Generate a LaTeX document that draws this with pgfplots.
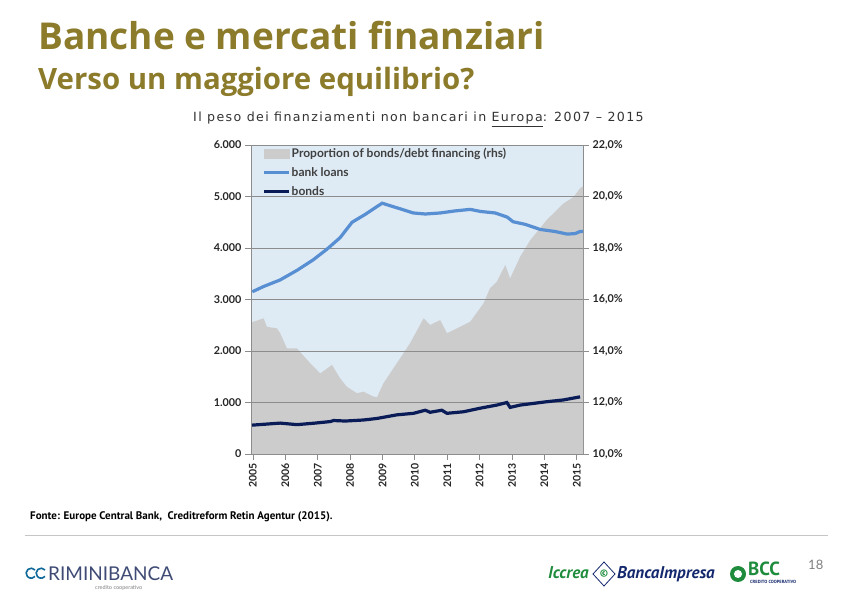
\documentclass[border=0pt]{standalone}
\usepackage{pgfplots}
\pgfplotsset{compat=1.18}
\usepackage{fontspec}
\setmainfont{PT Sans}
\newfontfamily\titlefont{Open Sans}
\newfontfamily\chartfont{Lato}
\newfontfamily\slidefont[LetterSpace=11]{DejaVu Sans}

\definecolor{olive}{RGB}{139,123,43}
\definecolor{plotbg}{RGB}{222,234,244}
\definecolor{areagray}{RGB}{204,204,204}
\definecolor{loanblue}{RGB}{88,143,210}
\definecolor{bondnavy}{RGB}{10,28,88}
\definecolor{gridgray}{RGB}{140,140,140}
\definecolor{logogreen}{RGB}{30,140,60}
\definecolor{logonavy}{RGB}{20,40,110}

\pgfplotsset{
  longline/.style={legend image code/.code={\draw[##1] (0pt,0pt) -- (25pt,0pt);}},
  areabox/.style={legend image code/.code={\fill[areagray] (0pt,-4.5pt) rectangle (25pt,4.5pt);}},
}

% proportion of bonds/debt financing (rhs, %)
\pgfplotstableread{
year  share
2004.94 10
2004.94 15.10
2005.33 15.27
2005.43 14.94
2005.74 14.88
2005.84 14.69
2006.05 14.10
2006.36 14.10
2006.77 13.52
2007.08 13.13
2007.44 13.46
2007.69 12.94
2007.90 12.61
2008.21 12.36
2008.41 12.42
2008.72 12.23
2008.83 12.20
2009.03 12.75
2009.44 13.52
2009.85 14.30
2010.27 15.27
2010.47 15.01
2010.78 15.20
2010.99 14.69
2011.30 14.88
2011.71 15.14
2012.12 15.85
2012.32 16.44
2012.53 16.69
2012.79 17.34
2012.94 16.82
2013.25 17.66
2013.56 18.30
2014.07 19.09
2014.59 19.73
2014.90 19.98
2015.10 20.32
2015.19 20.40
2015.19 10
}\sharetable

% bank loans (lhs)
\pgfplotstableread{
year  value
2004.98 3150
2005.32 3250
2005.84 3380
2006.37 3570
2006.86 3770
2007.29 3980
2007.69 4200
2008.06 4500
2008.46 4650
2008.77 4780
2008.99 4870
2009.24 4820
2009.55 4760
2009.95 4680
2010.32 4660
2010.78 4680
2011.24 4720
2011.71 4750
2012.02 4710
2012.48 4680
2012.85 4600
2013.03 4510
2013.40 4460
2013.87 4360
2014.33 4320
2014.70 4270
2014.95 4280
2015.10 4320
2015.19 4320
}\loantable

% bonds (lhs)
\pgfplotstableread{
year  value
2004.97 560
2005.84 600
2006.36 570
2006.92 600
2007.39 630
2007.49 650
2007.85 640
2008.41 660
2008.83 690
2009.44 760
2009.96 790
2010.32 850
2010.47 810
2010.83 850
2010.99 790
2011.50 820
2012.02 890
2012.53 950
2012.84 1000
2012.94 905
2013.25 950
2014.07 1015
2014.59 1050
2015.10 1110
}\bondtable

\begin{document}
\begin{tikzpicture}[x=1pt,y=1pt]
\useasboundingbox (0,0) rectangle (842,596);
\fill[white] (0,0) rectangle (842,596);

% slide titles
\node[anchor=base west, inner sep=0pt, text=olive, font=\titlefont\bfseries\fontsize{37}{37}\selectfont] at (38,546) {Banche e mercati finanziari};
\node[anchor=base west, inner sep=0pt, text=olive, font=\titlefont\bfseries\fontsize{29.4}{29.4}\selectfont] at (38,506) {Verso un maggiore equilibrio?};
\node[anchor=base west, inner sep=0pt, text=black!80, font=\slidefont\fontsize{12.6}{12.6}\selectfont] at (193,474) {Il peso dei finanziamenti non bancari in \underline{Europa}: 2007 – 2015};

% right axis: share of bonds in debt financing
\begin{axis}[
  at={(251pt,142pt)}, anchor=south west,
  width=332pt, height=309pt, scale only axis,
  xmin=2004.94, xmax=2015.19,
  ymin=10, ymax=22,
  axis x line=none,
  axis y line*=right,
  axis line style={gridgray},
  axis background/.style={fill=plotbg},
  ytick={10,12,...,22},
  tick style={gridgray, thick},
  tick align=outside, major tick length=6pt,
  /pgf/number format/assume math mode=true,
  yticklabel style={font=\chartfont\bfseries\fontsize{10.8}{10.8}\selectfont, text=black!85,
    /pgf/number format/.cd, fixed, fixed zerofill, precision=1, use comma},
  yticklabel={\pgfmathprintnumber{\tick}\%},
]
\addplot[fill=areagray, draw=none] table[x=year, y=share] {\sharetable};
\end{axis}

% left axis: bank loans and bonds
\begin{axis}[
  at={(251pt,142pt)}, anchor=south west,
  width=332pt, height=309pt, scale only axis,
  xmin=2004.94, xmax=2015.19,
  ymin=0, ymax=6000,
  axis x line*=bottom,
  axis y line*=left,
  axis line style={gridgray},
  xtick={2005,...,2015},
  minor x tick num=11,
  ytick={0,1000,...,6000},
  ymajorgrids, grid style={gridgray, line width=0.9pt},
  tick style={gridgray, thick},
  tick align=outside, major tick length=6pt, minor tick length=2.5pt,
  /pgf/number format/assume math mode=true,
  xticklabel style={font=\chartfont\bfseries\fontsize{10.5}{10.5}\selectfont, text=black!85, rotate=90, anchor=east,
    /pgf/number format/1000 sep={}},
  yticklabel style={font=\chartfont\bfseries\fontsize{10.8}{10.8}\selectfont, text=black!85,
    /pgf/number format/1000 sep={.}},
  legend style={at={(rel axis cs:0.025,1.0)}, anchor=north west, draw=none, fill=none,
    row sep=6.5pt, nodes={inner sep=1pt, font=\chartfont\bfseries\fontsize{12}{12}\selectfont, text=black!75}},
  legend cell align=left,
]
\addlegendimage{areabox}
\addlegendentry{Proportion of bonds/debt financing (rhs)}
\addplot[color=loanblue, line width=3.2pt, longline] table[x=year, y=value] {\loantable};
\addlegendentry{bank loans}
\addplot[color=bondnavy, line width=3.2pt, longline] table[x=year, y=value] {\bondtable};
\addlegendentry{bonds}
\end{axis}

% source
\node[anchor=base west, inner sep=0pt, font=\bfseries\fontsize{11}{11}\selectfont] at (30,76) {Fonte: Europe Central Bank,\ \ Creditreform Retin Agentur (2015).};
\draw[gray!45, line width=1pt] (25,60) -- (828,60);

% footer logos (as text)
\draw[logonavy!70!cyan, line width=1.6pt] (35,26) arc[start angle=40, end angle=320, radius=5];
\draw[logonavy!70!cyan, line width=1.6pt] (45,26) arc[start angle=40, end angle=320, radius=5];
\node[anchor=base west, inner sep=0pt, text=logonavy!60!gray, font=\chartfont\fontsize{19}{19}\selectfont] at (48,15) {RIMINIBANCA};
\node[anchor=base west, inner sep=0pt, text=gray, font=\chartfont\fontsize{5.5}{5.5}\selectfont] at (95,6) {credito cooperativo};
\node[anchor=base west, inner sep=0pt, text=logogreen, font=\bfseries\itshape\fontsize{17}{17}\selectfont] at (548,17) {Iccrea};
\draw[logonavy, line width=0.8pt] (604,10) -- (615,22) -- (604,34) -- (593,22) -- cycle;
\node[text=logogreen, font=\bfseries\fontsize{10}{10}\selectfont, inner sep=0pt] at (604,22) {©};
\node[anchor=base west, inner sep=0pt, text=logonavy, font=\bfseries\itshape\fontsize{17}{17}\selectfont] at (617,17) {BancaImpresa};
\fill[logogreen] (738,22) circle (8pt);
\fill[white] (738,22) circle (4pt);
\node[anchor=base west, inner sep=0pt, text=logogreen, font=\bfseries\fontsize{19}{19}\selectfont] at (748,20) {BCC};
\node[anchor=base west, inner sep=0pt, text=logonavy, font=\bfseries\fontsize{4.5}{4.5}\selectfont] at (750,12) {CREDITO COOPERATIVO};
\node[anchor=base west, inner sep=0pt, text=gray, font=\chartfont\fontsize{13}{13}\selectfont] at (808,26) {18};
\end{tikzpicture}
\end{document}
